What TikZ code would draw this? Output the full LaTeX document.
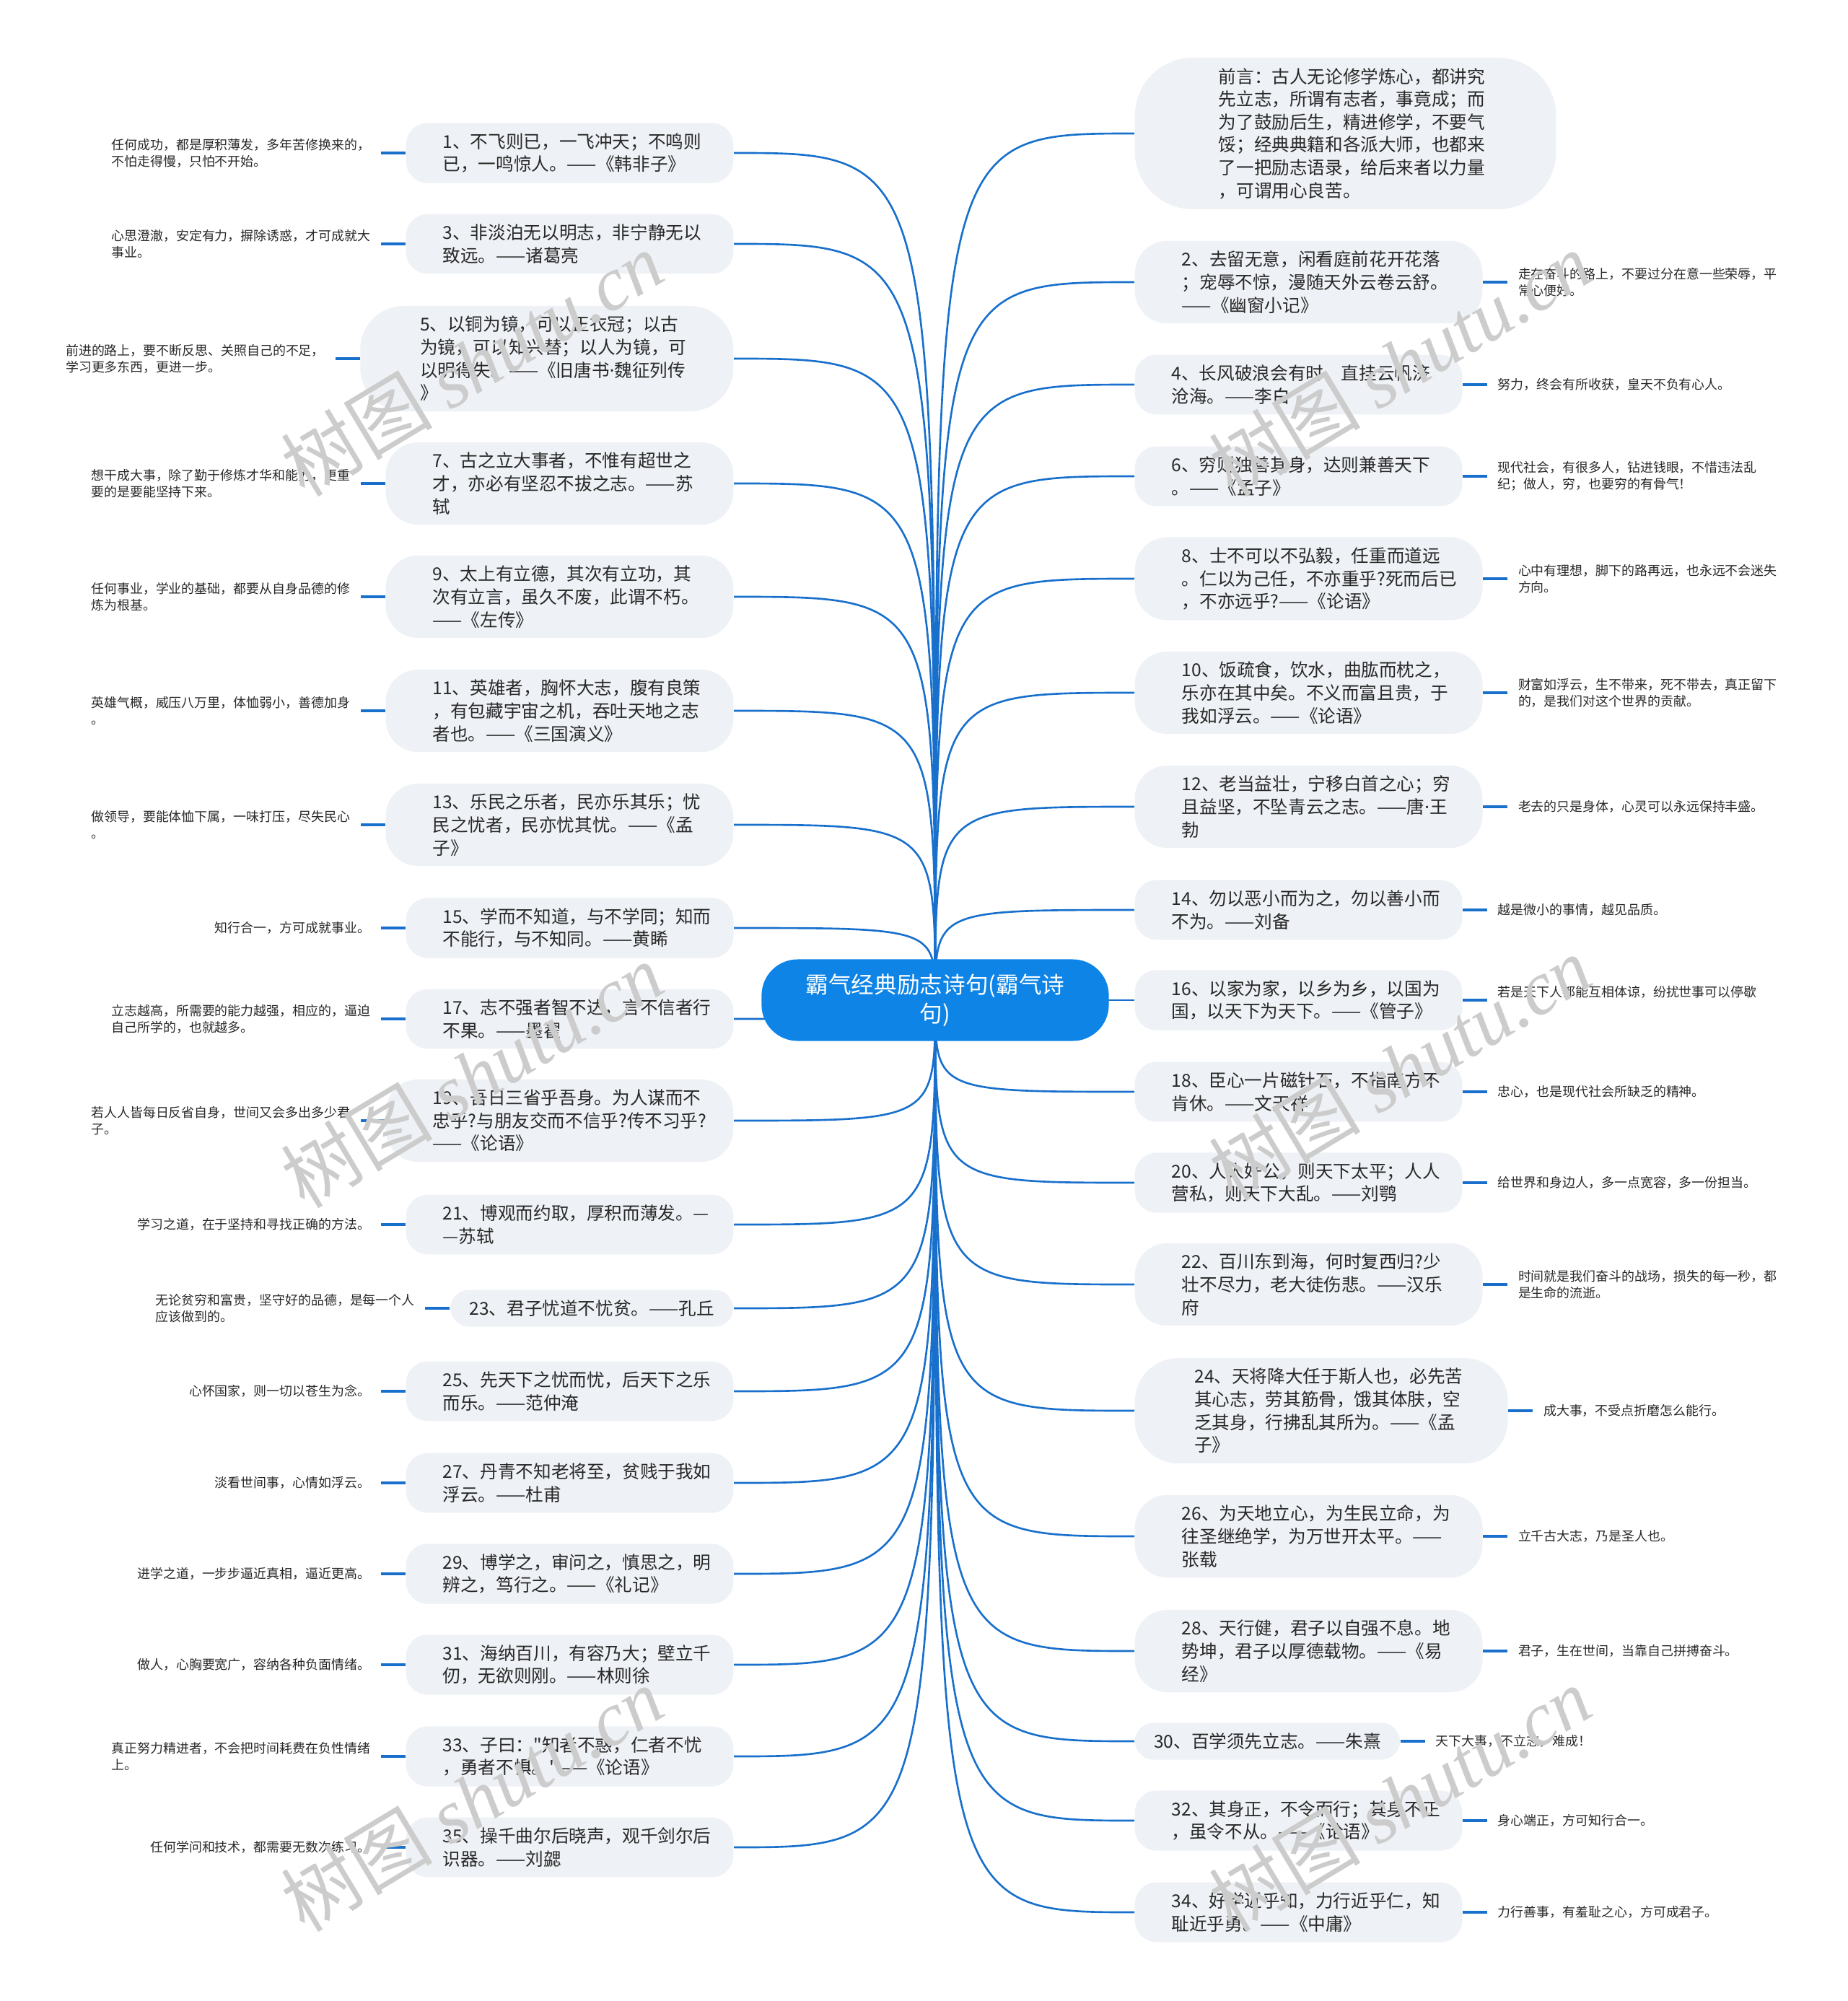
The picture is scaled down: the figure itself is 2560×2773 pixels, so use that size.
\documentclass[tikz,border=0pt]{standalone}
\usepackage{fontspec}
\setmainfont{Noto Sans CJK SC}
\newfontfamily\plainfont{Noto Sans CJK SC}
\newfontfamily\latinfont{Noto Sans}
\newfontfamily\wmlatin{Liberation Serif}
\AtBeginDocument{\XeTeXdashbreakstate=0\relax}
\usetikzlibrary{positioning}
\definecolor{linkblue}{RGB}{24,112,204}
\definecolor{rootblue}{RGB}{14,132,230}
\definecolor{boxgray}{RGB}{238,241,245}
\definecolor{textdark}{RGB}{40,40,40}
\pgfdeclarelayer{edgelayer}
\pgfdeclarelayer{nodelayer}
\pgfsetlayers{edgelayer,nodelayer,main}
\newcommand{\qdot}{{\latinfont ·}}
\newcommand{\sq}{{\plainfont "}}
\tikzstyle{root}=[rectangle,rounded corners=0.5cm,fill=rootblue,text=white,minimum width=4.81cm,minimum height=1.13cm,align=center,font=\fontsize{9}{11.5}\selectfont]
\tikzstyle{topic}=[rectangle,fill=boxgray,text=textdark,align=left,inner ysep=4pt,font=\fontsize{7}{9}\selectfont]
\tikzstyle{l1}=[inner xsep=7.5pt,rounded corners=0.26cm]
\tikzstyle{l2}=[text width=100pt,inner xsep=14.5pt,rounded corners=0.3cm]
\tikzstyle{l3}=[text width=100pt,inner xsep=18.5pt,rounded corners=0.45cm]
\tikzstyle{l4}=[text width=100pt,inner xsep=23.5pt,rounded corners=0.6cm]
\tikzstyle{l6}=[text width=100pt,inner xsep=33pt,rounded corners=0.8cm]
\tikzstyle{remark}=[align=left,inner xsep=4pt,inner ysep=2pt,text=textdark,font=\fontsize{5.1}{6.6}\selectfont]
\tikzstyle{branch}=[draw=linkblue,line width=0.75pt]
\tikzstyle{stub}=[draw=linkblue,line width=1.1pt]
\tikzstyle{watermark}=[text=black!20,rotate=31,font=\fontsize{30}{30}\selectfont]

\begin{document}
\begin{tikzpicture}[x=0.01cm,y=-0.01cm]
	\useasboundingbox (0,0) rectangle (2560,2773);
	\begin{pgfonlayer}{nodelayer}
		\node [style=root] (0) at (1296, 1386) {霸气经典励志诗句(霸气诗\\句)};
		% left side
		\node [style=topic, l2, anchor=east] (1) at (1017, 212) {1、不飞则已，一飞冲天；不鸣则\\已，一鸣惊人。——《韩非子》};
		\node [style=topic, l2, anchor=east] (3) at (1017, 338) {3、非淡泊无以明志，非宁静无以\\致远。——诸葛亮};
		\node [style=topic, l4, anchor=east] (5) at (1017, 497) {5、以铜为镜，可以正衣冠；以古\\为镜，可以知兴替；以人为镜，可\\以明得失。——《旧唐书\qdot 魏征列传\\》};
		\node [style=topic, l3, anchor=east] (7) at (1017, 670) {7、古之立大事者，不惟有超世之\\才，亦必有坚忍不拔之志。——苏\\轼};
		\node [style=topic, l3, anchor=east] (9) at (1017, 827) {9、太上有立德，其次有立功，其\\次有立言，虽久不废，此谓不朽。\\——《左传》};
		\node [style=topic, l3, anchor=east] (11) at (1017, 985) {11、英雄者，胸怀大志，腹有良策\\，有包藏宇宙之机，吞吐天地之志\\者也。——《三国演义》};
		\node [style=topic, l3, anchor=east] (13) at (1017, 1143) {13、乐民之乐者，民亦乐其乐；忧\\民之忧者，民亦忧其忧。——《孟\\子》};
		\node [style=topic, l2, anchor=east] (15) at (1017, 1286) {15、学而不知道，与不学同；知而\\不能行，与不知同。——黄睎};
		\node [style=topic, l2, anchor=east] (17) at (1017, 1412) {17、志不强者智不达，言不信者行\\不果。——墨翟};
		\node [style=topic, l3, anchor=east] (19) at (1017, 1553) {19、吾日三省乎吾身。为人谋而不\\忠乎?与朋友交而不信乎?传不习乎?\\——《论语》};
		\node [style=topic, l2, anchor=east] (21) at (1017, 1697) {21、博观而约取，厚积而薄发。—\\—苏轼};
		\node [style=topic, l1, anchor=east] (23) at (1017, 1813) {23、君子忧道不忧贫。——孔丘};
		\node [style=topic, l2, anchor=east] (25) at (1017, 1928) {25、先天下之忧而忧，后天下之乐\\而乐。——范仲淹};
		\node [style=topic, l2, anchor=east] (27) at (1017, 2055) {27、丹青不知老将至，贫贱于我如\\浮云。——杜甫};
		\node [style=topic, l2, anchor=east] (29) at (1017, 2181) {29、博学之，审问之，慎思之，明\\辨之，笃行之。——《礼记》};
		\node [style=topic, l2, anchor=east] (31) at (1017, 2307) {31、海纳百川，有容乃大；壁立千\\仞，无欲则刚。——林则徐};
		\node [style=topic, l2, anchor=east] (33) at (1017, 2434) {33、子曰：\sq 知者不惑，仁者不忧\\，勇者不惧。\sq——《论语》};
		\node [style=topic, l2, anchor=east] (35) at (1017, 2560) {35、操千曲尔后晓声，观千剑尔后\\识器。——刘勰};
		% right side
		\node [style=topic, l6, anchor=west] (36) at (1572, 185) {前言：古人无论修学炼心，都讲究\\先立志，所谓有志者，事竟成；而\\为了鼓励后生，精进修学，不要气\\馁；经典典籍和各派大师，也都来\\了一把励志语录，给后来者以力量\\，可谓用心良苦。};
		\node [style=topic, l3, anchor=west] (2) at (1572, 391) {2、去留无意，闲看庭前花开花落\\；宠辱不惊，漫随天外云卷云舒。\\——《幽窗小记》};
		\node [style=topic, l2, anchor=west] (4) at (1572, 533) {4、长风破浪会有时，直挂云帆济\\沧海。——李白};
		\node [style=topic, l2, anchor=west] (6) at (1572, 660) {6、穷则独善其身，达则兼善天下\\。——《孟子》};
		\node [style=topic, l3, anchor=west] (8) at (1572, 802) {8、士不可以不弘毅，任重而道远\\。仁以为己任，不亦重乎?死而后已\\，不亦远乎?——《论语》};
		\node [style=topic, l3, anchor=west] (10) at (1572, 960) {10、饭疏食，饮水，曲肱而枕之，\\乐亦在其中矣。不义而富且贵，于\\我如浮云。——《论语》};
		\node [style=topic, l3, anchor=west] (12) at (1572, 1118) {12、老当益壮，宁移白首之心；穷\\且益坚，不坠青云之志。——唐\qdot 王\\勃};
		\node [style=topic, l2, anchor=west] (14) at (1572, 1261) {14、勿以恶小而为之，勿以善小而\\不为。——刘备};
		\node [style=topic, l2, anchor=west] (16) at (1572, 1386) {16、以家为家，以乡为乡，以国为\\国，以天下为天下。——《管子》};
		\node [style=topic, l2, anchor=west] (18) at (1572, 1513) {18、臣心一片磁针石，不指南方不\\肯休。——文天祥};
		\node [style=topic, l2, anchor=west] (20) at (1572, 1639) {20、人人好公，则天下太平；人人\\营私，则天下大乱。——刘鹗};
		\node [style=topic, l3, anchor=west] (22) at (1572, 1780) {22、百川东到海，何时复西归?少\\壮不尽力，老大徒伤悲。——汉乐\\府};
		\node [style=topic, l4, anchor=west] (24) at (1572, 1955) {24、天将降大任于斯人也，必先苦\\其心志，劳其筋骨，饿其体肤，空\\乏其身，行拂乱其所为。——《孟\\子》};
		\node [style=topic, l3, anchor=west] (26) at (1572, 2129) {26、为天地立心，为生民立命，为\\往圣继绝学，为万世开太平。——\\张载};
		\node [style=topic, l3, anchor=west] (28) at (1572, 2288) {28、天行健，君子以自强不息。地\\势坤，君子以厚德载物。——《易\\经》};
		\node [style=topic, l1, anchor=west] (30) at (1572, 2413) {30、百学须先立志。——朱熹};
		\node [style=topic, l2, anchor=west] (32) at (1572, 2523) {32、其身正，不令而行；其身不正\\，虽令不从。——《论语》};
		\node [style=topic, l2, anchor=west] (34) at (1572, 2650) {34、好学近乎知，力行近乎仁，知\\耻近乎勇。——《中庸》};
		% remarks, left
		\node [style=remark, left=0.34cm of 1] (101) {任何成功，都是厚积薄发，多年苦修换来的，\\不怕走得慢，只怕不开始。};
		\node [style=remark, left=0.34cm of 3] (103) {心思澄澈，安定有力，摒除诱惑，才可成就大\\事业。};
		\node [style=remark, left=0.34cm of 5] (105) {前进的路上，要不断反思、关照自己的不足，\\学习更多东西，更进一步。};
		\node [style=remark, left=0.34cm of 7] (107) {想干成大事，除了勤于修炼才华和能力，更重\\要的是要能坚持下来。};
		\node [style=remark, left=0.34cm of 9] (109) {任何事业，学业的基础，都要从自身品德的修\\炼为根基。};
		\node [style=remark, left=0.34cm of 11] (111) {英雄气概，威压八万里，体恤弱小，善德加身\\。};
		\node [style=remark, left=0.34cm of 13] (113) {做领导，要能体恤下属，一味打压，尽失民心\\。};
		\node [style=remark, left=0.34cm of 15] (115) {知行合一，方可成就事业。};
		\node [style=remark, left=0.34cm of 17] (117) {立志越高，所需要的能力越强，相应的，逼迫\\自己所学的，也就越多。};
		\node [style=remark, left=0.34cm of 19] (119) {若人人皆每日反省自身，世间又会多出多少君\\子。};
		\node [style=remark, left=0.34cm of 21] (121) {学习之道，在于坚持和寻找正确的方法。};
		\node [style=remark, left=0.34cm of 23] (123) {无论贫穷和富贵，坚守好的品德，是每一个人\\应该做到的。};
		\node [style=remark, left=0.34cm of 25] (125) {心怀国家，则一切以苍生为念。};
		\node [style=remark, left=0.34cm of 27] (127) {淡看世间事，心情如浮云。};
		\node [style=remark, left=0.34cm of 29] (129) {进学之道，一步步逼近真相，逼近更高。};
		\node [style=remark, left=0.34cm of 31] (131) {做人，心胸要宽广，容纳各种负面情绪。};
		\node [style=remark, left=0.34cm of 33] (133) {真正努力精进者，不会把时间耗费在负性情绪\\上。};
		\node [style=remark, left=0.34cm of 35] (135) {任何学问和技术，都需要无数次练习。};
		% remarks, right
		\node [style=remark, right=0.34cm of 2] (102) {走在奋斗的路上，不要过分在意一些荣辱，平\\常心便好。};
		\node [style=remark, right=0.34cm of 4] (104) {努力，终会有所收获，皇天不负有心人。};
		\node [style=remark, right=0.34cm of 6] (106) {现代社会，有很多人，钻进钱眼，不惜违法乱\\纪；做人，穷，也要穷的有骨气！};
		\node [style=remark, right=0.34cm of 8] (108) {心中有理想，脚下的路再远，也永远不会迷失\\方向。};
		\node [style=remark, right=0.34cm of 10] (110) {财富如浮云，生不带来，死不带去，真正留下\\的，是我们对这个世界的贡献。};
		\node [style=remark, right=0.34cm of 12] (112) {老去的只是身体，心灵可以永远保持丰盛。};
		\node [style=remark, right=0.34cm of 14] (114) {越是微小的事情，越见品质。};
		\node [style=remark, right=0.34cm of 16] (116) {若是天下人都能互相体谅，纷扰世事可以停歇\\。};
		\node [style=remark, right=0.34cm of 18] (118) {忠心，也是现代社会所缺乏的精神。};
		\node [style=remark, right=0.34cm of 20] (120) {给世界和身边人，多一点宽容，多一份担当。};
		\node [style=remark, right=0.34cm of 22] (122) {时间就是我们奋斗的战场，损失的每一秒，都\\是生命的流逝。};
		\node [style=remark, right=0.34cm of 24] (124) {成大事，不受点折磨怎么能行。};
		\node [style=remark, right=0.34cm of 26] (126) {立千古大志，乃是圣人也。};
		\node [style=remark, right=0.34cm of 28] (128) {君子，生在世间，当靠自己拼搏奋斗。};
		\node [style=remark, right=0.34cm of 30] (130) {天下大事，不立志，难成！};
		\node [style=remark, right=0.34cm of 32] (132) {身心端正，方可知行合一。};
		\node [style=remark, right=0.34cm of 34] (134) {力行善事，有羞耻之心，方可成君子。};
	\end{pgfonlayer}
	\begin{pgfonlayer}{edgelayer}
		% branches, left
		\draw [style=branch] (0.center) .. controls (0.center |- 1.east) .. (1.east);
		\draw [style=branch] (0.center) .. controls (0.center |- 3.east) .. (3.east);
		\draw [style=branch] (0.center) .. controls (0.center |- 5.east) .. (5.east);
		\draw [style=branch] (0.center) .. controls (0.center |- 7.east) .. (7.east);
		\draw [style=branch] (0.center) .. controls (0.center |- 9.east) .. (9.east);
		\draw [style=branch] (0.center) .. controls (0.center |- 11.east) .. (11.east);
		\draw [style=branch] (0.center) .. controls (0.center |- 13.east) .. (13.east);
		\draw [style=branch] (0.center) .. controls (0.center |- 15.east) .. (15.east);
		\draw [style=branch] (0.center) .. controls (0.center |- 17.east) .. (17.east);
		\draw [style=branch] (0.center) .. controls (0.center |- 19.east) .. (19.east);
		\draw [style=branch] (0.center) .. controls (0.center |- 21.east) .. (21.east);
		\draw [style=branch] (0.center) .. controls (0.center |- 23.east) .. (23.east);
		\draw [style=branch] (0.center) .. controls (0.center |- 25.east) .. (25.east);
		\draw [style=branch] (0.center) .. controls (0.center |- 27.east) .. (27.east);
		\draw [style=branch] (0.center) .. controls (0.center |- 29.east) .. (29.east);
		\draw [style=branch] (0.center) .. controls (0.center |- 31.east) .. (31.east);
		\draw [style=branch] (0.center) .. controls (0.center |- 33.east) .. (33.east);
		\draw [style=branch] (0.center) .. controls (0.center |- 35.east) .. (35.east);
		% branches, right
		\draw [style=branch] (0.center) .. controls (0.center |- 36.west) .. (36.west);
		\draw [style=branch] (0.center) .. controls (0.center |- 2.west) .. (2.west);
		\draw [style=branch] (0.center) .. controls (0.center |- 4.west) .. (4.west);
		\draw [style=branch] (0.center) .. controls (0.center |- 6.west) .. (6.west);
		\draw [style=branch] (0.center) .. controls (0.center |- 8.west) .. (8.west);
		\draw [style=branch] (0.center) .. controls (0.center |- 10.west) .. (10.west);
		\draw [style=branch] (0.center) .. controls (0.center |- 12.west) .. (12.west);
		\draw [style=branch] (0.center) .. controls (0.center |- 14.west) .. (14.west);
		\draw [style=branch] (0.center) .. controls (0.center |- 16.west) .. (16.west);
		\draw [style=branch] (0.center) .. controls (0.center |- 18.west) .. (18.west);
		\draw [style=branch] (0.center) .. controls (0.center |- 20.west) .. (20.west);
		\draw [style=branch] (0.center) .. controls (0.center |- 22.west) .. (22.west);
		\draw [style=branch] (0.center) .. controls (0.center |- 24.west) .. (24.west);
		\draw [style=branch] (0.center) .. controls (0.center |- 26.west) .. (26.west);
		\draw [style=branch] (0.center) .. controls (0.center |- 28.west) .. (28.west);
		\draw [style=branch] (0.center) .. controls (0.center |- 30.west) .. (30.west);
		\draw [style=branch] (0.center) .. controls (0.center |- 32.west) .. (32.west);
		\draw [style=branch] (0.center) .. controls (0.center |- 34.west) .. (34.west);
		% stubs to remarks
		\draw [style=stub] (1.west) -- (101.east);
		\draw [style=stub] (3.west) -- (103.east);
		\draw [style=stub] (5.west) -- (105.east);
		\draw [style=stub] (7.west) -- (107.east);
		\draw [style=stub] (9.west) -- (109.east);
		\draw [style=stub] (11.west) -- (111.east);
		\draw [style=stub] (13.west) -- (113.east);
		\draw [style=stub] (15.west) -- (115.east);
		\draw [style=stub] (17.west) -- (117.east);
		\draw [style=stub] (19.west) -- (119.east);
		\draw [style=stub] (21.west) -- (121.east);
		\draw [style=stub] (23.west) -- (123.east);
		\draw [style=stub] (25.west) -- (125.east);
		\draw [style=stub] (27.west) -- (127.east);
		\draw [style=stub] (29.west) -- (129.east);
		\draw [style=stub] (31.west) -- (131.east);
		\draw [style=stub] (33.west) -- (133.east);
		\draw [style=stub] (35.west) -- (135.east);
		\draw [style=stub] (2.east) -- (102.west);
		\draw [style=stub] (4.east) -- (104.west);
		\draw [style=stub] (6.east) -- (106.west);
		\draw [style=stub] (8.east) -- (108.west);
		\draw [style=stub] (10.east) -- (110.west);
		\draw [style=stub] (12.east) -- (112.west);
		\draw [style=stub] (14.east) -- (114.west);
		\draw [style=stub] (16.east) -- (116.west);
		\draw [style=stub] (18.east) -- (118.west);
		\draw [style=stub] (20.east) -- (120.west);
		\draw [style=stub] (22.east) -- (122.west);
		\draw [style=stub] (24.east) -- (124.west);
		\draw [style=stub] (26.east) -- (126.west);
		\draw [style=stub] (28.east) -- (128.west);
		\draw [style=stub] (30.east) -- (130.west);
		\draw [style=stub] (32.east) -- (132.west);
		\draw [style=stub] (34.east) -- (134.west);
	\end{pgfonlayer}
	% watermarks
	\node [style=watermark] (w1) at (654, 504) {树图 {\wmlatin\itshape shutu.cn}};
	\node [style=watermark] (w2) at (1940, 504) {树图 {\wmlatin\itshape shutu.cn}};
	\node [style=watermark] (w3) at (654, 1490) {树图 {\wmlatin\itshape shutu.cn}};
	\node [style=watermark] (w4) at (1940, 1480) {树图 {\wmlatin\itshape shutu.cn}};
	\node [style=watermark] (w5) at (654, 2493) {树图 {\wmlatin\itshape shutu.cn}};
	\node [style=watermark] (w6) at (1940, 2493) {树图 {\wmlatin\itshape shutu.cn}};
\end{tikzpicture}
\end{document}
